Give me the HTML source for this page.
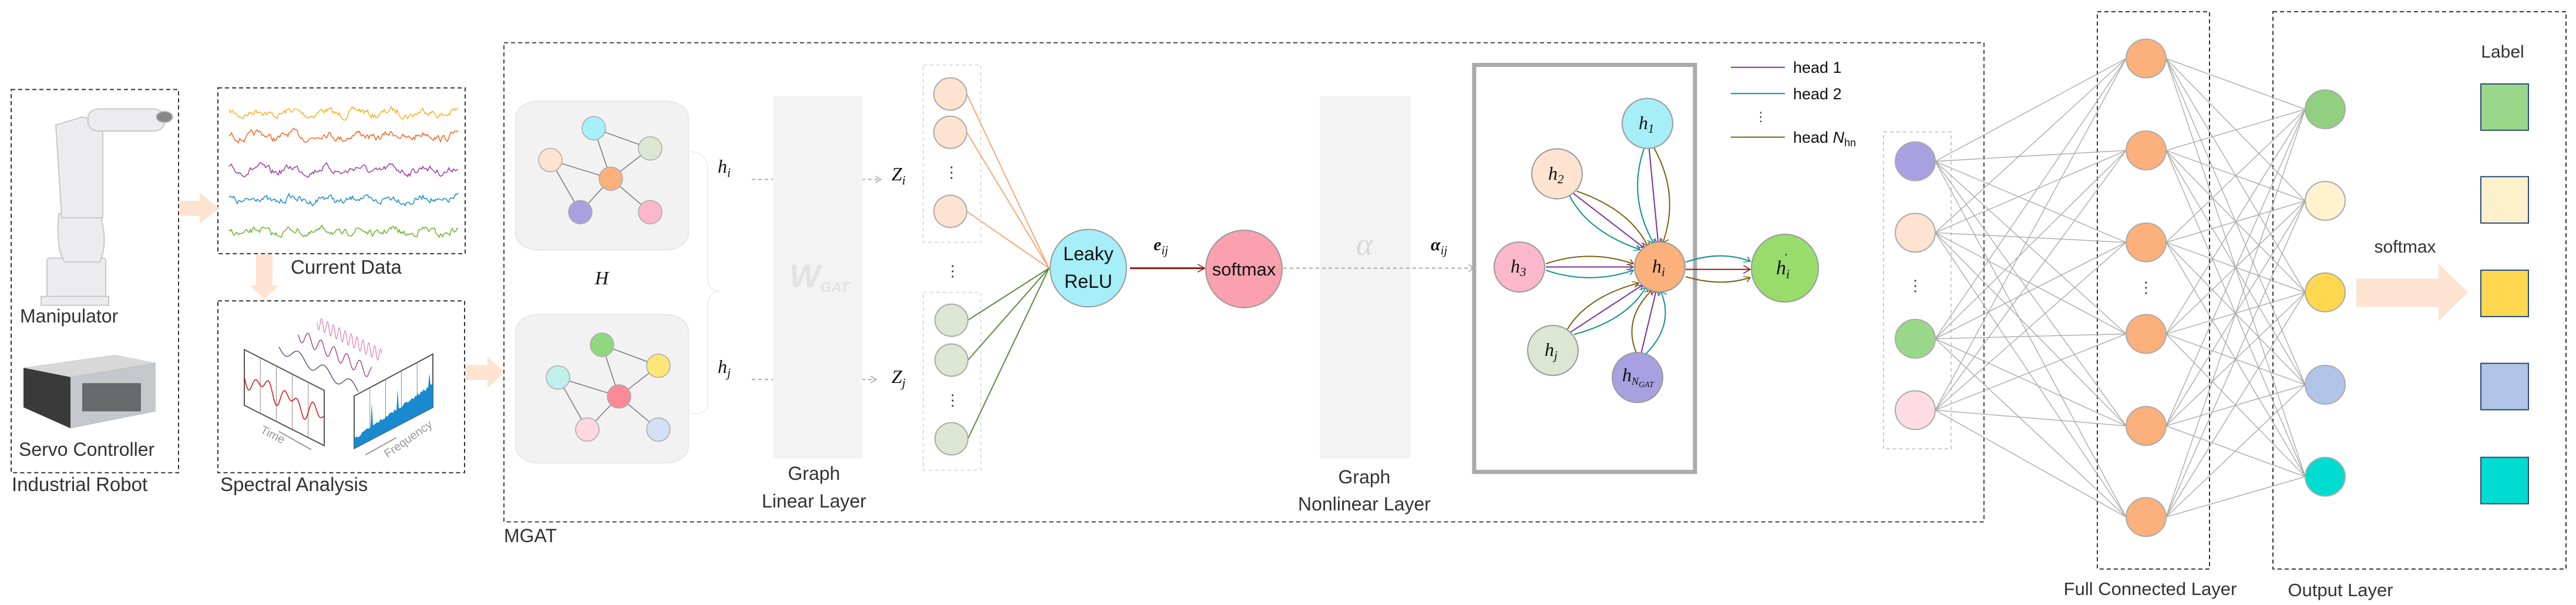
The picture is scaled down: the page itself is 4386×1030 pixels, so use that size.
<!DOCTYPE html>
<html><head><meta charset="utf-8">
<style>
html,body{margin:0;padding:0;background:#fff;overflow:hidden;}
svg{display:block;}
text{font-family:"Liberation Sans",sans-serif;fill:#333;}
.m{font-family:"Liberation Serif",serif;font-style:italic;fill:#111;}
#G *{vector-effect:non-scaling-stroke;}
</style></head>
<body>
<svg id="s" width="4386" height="1030" viewBox="0 0 4386 1030" xmlns="http://www.w3.org/2000/svg">
<defs>
<marker id="ag" markerWidth="12" markerHeight="18" refX="10" refY="9" orient="auto" markerUnits="userSpaceOnUse"><path d="M0,0 L10,9 L0,18" fill="none" stroke="#aaa" stroke-width="2"/></marker>
<marker id="ar" markerWidth="14" markerHeight="20" refX="12" refY="10" orient="auto" markerUnits="userSpaceOnUse"><path d="M0,0 L12,10 L0,20" fill="none" stroke="#8b1a1a" stroke-width="2"/></marker>
<marker id="ap" markerWidth="12" markerHeight="16" refX="10" refY="8" orient="auto" markerUnits="userSpaceOnUse"><path d="M0,0 L10,8 L0,16" fill="none" stroke="#7b2fa0" stroke-width="2"/></marker>
<marker id="at" markerWidth="12" markerHeight="16" refX="10" refY="8" orient="auto" markerUnits="userSpaceOnUse"><path d="M0,0 L10,8 L0,16" fill="none" stroke="#109090" stroke-width="2"/></marker>
<marker id="ao" markerWidth="12" markerHeight="16" refX="10" refY="8" orient="auto" markerUnits="userSpaceOnUse"><path d="M0,0 L10,8 L0,16" fill="none" stroke="#7a6010" stroke-width="2"/></marker>
</defs>
<g id="G" transform="scale(1,0.6866)">
<rect x="19" y="222" width="285" height="950" fill="none" stroke="#333" stroke-width="2" stroke-dasharray="7,5"/>
<g fill="#ececee" stroke="#c8c8cc" stroke-width="2">
<rect x="80" y="640" width="100" height="115" rx="6"/>
<rect x="70" y="735" width="115" height="22"/>
<path d="M100,530 Q95,620 110,650 L170,650 Q185,600 170,530 Z"/>
<path d="M95,310 L140,290 L175,300 L175,540 L105,540 Z"/>
<rect x="150" y="270" width="130" height="55" rx="20"/>
<circle cx="280" cy="290" r="14" fill="#888"/>
</g>
<path d="M40,912 L195,880 L265,900 L265,1020 L120,1062 L40,1010 Z" fill="#3a3a3a"/>
<path d="M40,912 L195,880 L265,900 L120,935 Z" fill="#d8d8d8"/>
<path d="M120,935 L265,900 L265,1020 L120,1062 Z" fill="#c4c8cc"/>
<rect x="140" y="950" width="100" height="70" fill="#2a2a2a" opacity="0.6"/>

<rect x="371" y="218" width="421" height="411" fill="none" stroke="#333" stroke-width="2" stroke-dasharray="7,5"/>
<g id="waves"></g>
<path d="M306,498 L340,498 L340,478 L373,516 L340,555 L340,535 L306,535 Z" fill="#fde3d0"/>
<path d="M436,632 L464,632 L464,708 L474,708 L450,742 L426,708 L436,708 Z" fill="#fde3d0"/>
<path d="M792,905 L830,905 L830,885 L859,923 L830,962 L830,942 L792,942 Z" fill="#fde3d0"/>
<rect x="371" y="746" width="420" height="426" fill="none" stroke="#333" stroke-width="2" stroke-dasharray="7,5"/>
<g id="spec">
<path d="M416,867 L552,968 L552,1105 L416,1005 Z" fill="#fff" stroke="#555" stroke-width="2"/>
<path d="M603,982 L737,878 L737,1010 L603,1112 Z" fill="#fff" stroke="#555" stroke-width="2"/>
</g>
<line x1="475" y1="1070" x2="530" y2="1115" stroke="#999" stroke-width="2"/>
<line x1="622" y1="1128" x2="675" y2="1085" stroke="#999" stroke-width="2"/>

<rect x="858" y="106" width="2520" height="1188" fill="none" stroke="#444" stroke-width="2" stroke-dasharray="7,5"/>
<rect x="878" y="251" width="294" height="369" rx="40" fill="#f2f2f2" stroke="#e4e8ec" stroke-width="2"/>
<rect x="878" y="780" width="294" height="368" rx="40" fill="#f2f2f2" stroke="#e4e8ec" stroke-width="2"/>
<g stroke="#777" stroke-width="1.5">
<line x1="1011" y1="318" x2="1107" y2="368"/><line x1="1011" y1="318" x2="1040" y2="443"/>
<line x1="937" y1="397" x2="1040" y2="443"/><line x1="937" y1="397" x2="988" y2="526"/>
<line x1="1040" y1="443" x2="1107" y2="368"/><line x1="1040" y1="443" x2="988" y2="526"/>
<line x1="1040" y1="443" x2="1107" y2="526"/>
<line x1="1025" y1="855" x2="1121" y2="907"/><line x1="1025" y1="855" x2="1054" y2="983"/>
<line x1="950" y1="936" x2="1054" y2="983"/><line x1="950" y1="936" x2="1000" y2="1065"/>
<line x1="1054" y1="983" x2="1121" y2="907"/><line x1="1054" y1="983" x2="1000" y2="1065"/>
<line x1="1054" y1="983" x2="1121" y2="1065"/>
</g>
<g stroke="#aaa" stroke-width="1.5">
<ellipse cx="1011" cy="318" rx="20" ry="29" fill="#a6f0f8"/><ellipse cx="1107" cy="368" rx="20" ry="29" fill="#dce6d2"/>
<ellipse cx="937" cy="397" rx="20" ry="29" fill="#fde3d0"/><ellipse cx="1040" cy="443" rx="20" ry="29" fill="#fcb07c"/>
<ellipse cx="988" cy="526" rx="20" ry="29" fill="#a8a0e0"/><ellipse cx="1107" cy="526" rx="20" ry="29" fill="#fbb8cc"/>
<ellipse cx="1025" cy="855" rx="20" ry="29" fill="#90d880"/><ellipse cx="1121" cy="907" rx="20" ry="29" fill="#fde67a"/>
<ellipse cx="950" cy="936" rx="20" ry="29" fill="#c0f0ec"/><ellipse cx="1054" cy="983" rx="20" ry="29" fill="#fa8a98"/>
<ellipse cx="1000" cy="1065" rx="20" ry="29" fill="#fcd8e0"/><ellipse cx="1121" cy="1065" rx="20" ry="29" fill="#d4e0f4"/>
</g>
<path d="M1176,375 Q1205,380 1205,420 L1205,690 Q1205,720 1225,722 Q1205,724 1205,760 L1205,1000 Q1205,1030 1176,1025" fill="none" stroke="#eee" stroke-width="2"/>
<line x1="1280" y1="445" x2="1500" y2="445" stroke="#aaa" stroke-width="2" stroke-dasharray="6,5" marker-end="url(#ag)"/>
<line x1="1280" y1="941" x2="1492" y2="941" stroke="#aaa" stroke-width="2" stroke-dasharray="6,5" marker-end="url(#ag)"/>
<rect x="1316" y="239" width="153" height="898" fill="#f3f3f3"/>

<rect x="1572" y="161" width="98" height="440" fill="none" stroke="#ddd" stroke-width="2" stroke-dasharray="6,5"/>
<rect x="1572" y="725" width="98" height="441" fill="none" stroke="#ddd" stroke-width="2" stroke-dasharray="6,5"/>
<g stroke-width="2">
<line x1="1646" y1="233" x2="1786" y2="665" stroke="#f7a878"/><line x1="1646" y1="328" x2="1786" y2="665" stroke="#f7a878"/><line x1="1646" y1="524" x2="1786" y2="665" stroke="#f7a878"/>
<line x1="1648" y1="794" x2="1786" y2="665" stroke="#5a8a40"/><line x1="1648" y1="893" x2="1786" y2="665" stroke="#5a8a40"/><line x1="1648" y1="1088" x2="1786" y2="665" stroke="#5a8a40"/>
</g>
<g stroke="#aaa" stroke-width="2">
<ellipse cx="1618" cy="233" rx="28" ry="40" fill="#fde3d0"/><ellipse cx="1618" cy="328" rx="28" ry="40" fill="#fde3d0"/><ellipse cx="1618" cy="524" rx="28" ry="40" fill="#fde3d0"/>
<ellipse cx="1620" cy="794" rx="28" ry="40" fill="#dce6d2"/><ellipse cx="1620" cy="893" rx="28" ry="40" fill="#dce6d2"/><ellipse cx="1620" cy="1088" rx="28" ry="40" fill="#dce6d2"/>
</g>
<ellipse cx="1853" cy="665" rx="65" ry="96" fill="#a6eef8" stroke="#999" stroke-width="2"/>
<line x1="1924" y1="665" x2="2051" y2="665" stroke="#8b1a1a" stroke-width="3" marker-end="url(#ar)"/>
<ellipse cx="2118" cy="667" rx="65" ry="96" fill="#fba0ae" stroke="#999" stroke-width="2"/>
<rect x="2247" y="239" width="155" height="898" fill="#f3f3f3"/>
<line x1="2185" y1="665" x2="2510" y2="665" stroke="#aaa" stroke-width="2" stroke-dasharray="6,5" marker-end="url(#ag)"/>

<rect x="2510" y="161" width="376" height="1009" fill="none" stroke="#aaa" stroke-width="7"/>
<g id="att" fill="none" stroke-width="2"></g>
<g stroke="#999" stroke-width="2">
<ellipse cx="2805" cy="306" rx="43" ry="62" fill="#a6eef8"/>
<ellipse cx="2651" cy="431" rx="43" ry="62" fill="#fde3d0"/>
<ellipse cx="2587" cy="662" rx="43" ry="62" fill="#fbb8cc"/>
<ellipse cx="2826" cy="662" rx="43" ry="62" fill="#fcb07c"/>
<ellipse cx="2644" cy="869" rx="43" ry="62" fill="#dce6d2"/>
<ellipse cx="2788" cy="936" rx="43" ry="62" fill="#a8a0e0"/>
</g>
<path d="M2870,650 Q2930,620 2980,648" fill="none" stroke="#109090" stroke-width="2" marker-end="url(#at)"/>
<line x1="2870" y1="668" x2="2980" y2="668" stroke="#8b1a1a" stroke-width="2" marker-end="url(#ar)"/>
<path d="M2870,686 Q2930,712 2980,688" fill="none" stroke="#7a6010" stroke-width="2" marker-end="url(#ao)"/>
<ellipse cx="3039" cy="665" rx="57" ry="84" fill="#98dc6c" stroke="#999" stroke-width="2"/>
<line x1="2947" y1="167" x2="3039" y2="167" stroke="#7b2fa0" stroke-width="2"/>
<line x1="2947" y1="232" x2="3039" y2="232" stroke="#109090" stroke-width="2"/>
<line x1="2947" y1="340" x2="3039" y2="340" stroke="#7a6010" stroke-width="2"/>

<rect x="3207" y="327" width="115" height="786" fill="none" stroke="#ccc" stroke-width="2" stroke-dasharray="6,5"/>
<rect x="3571" y="29" width="191" height="1382" fill="none" stroke="#333" stroke-width="2" stroke-dasharray="7,5"/>
<rect x="3870" y="29" width="499" height="1382" fill="none" stroke="#333" stroke-width="2" stroke-dasharray="7,5"/>
<g id="fc" stroke="#aaa" stroke-width="1.4"></g>
<g stroke="#aaa" stroke-width="2">
<ellipse cx="3261" cy="400" rx="34" ry="48" fill="#a8a0e0"/>
<ellipse cx="3261" cy="577" rx="34" ry="48" fill="#fde3d0"/>
<ellipse cx="3261" cy="840" rx="34" ry="48" fill="#98d888"/>
<ellipse cx="3261" cy="1017" rx="34" ry="48" fill="#fddde3"/>
</g>
<g id="fcn" stroke="#aaa" stroke-width="2" fill="#fcb07c"></g>
<g stroke="#aaa" stroke-width="2">
<ellipse cx="3959" cy="271" rx="34" ry="48" fill="#90d080"/>
<ellipse cx="3959" cy="498" rx="34" ry="48" fill="#fff3cf"/>
<ellipse cx="3959" cy="725" rx="34" ry="48" fill="#ffd84f"/>
<ellipse cx="3959" cy="954" rx="34" ry="48" fill="#b0c4e8"/>
<ellipse cx="3959" cy="1182" rx="34" ry="48" fill="#00ddd0"/>
</g>
<path d="M4012,691 L4152,691 L4152,654 L4202,725 L4152,796 L4152,761 L4012,761 Z" fill="#fde3d0"/>
<g stroke="#2a4a7a" stroke-width="2">
<rect x="4224" y="208" width="81" height="115" fill="#98d888"/>
<rect x="4224" y="438" width="81" height="115" fill="#fff0cc"/>
<rect x="4224" y="670" width="81" height="115" fill="#ffd84f"/>
<rect x="4224" y="901" width="81" height="115" fill="#b0c4e8"/>
<rect x="4224" y="1134" width="81" height="115" fill="#00ddd0"/>
</g>
</g>

<text x="34" y="549" font-size="32">Manipulator</text>
<text x="32" y="776" font-size="32">Servo Controller</text>
<text x="20" y="836" font-size="33">Industrial Robot</text>
<text x="495" y="466" font-size="33">Current Data</text>
<text x="442" y="736" font-size="20" transform="rotate(27 442 736)" style="fill:#999">Time</text>
<text x="660" y="780" font-size="20" transform="rotate(-35 660 780)" style="fill:#999">Frequency</text>
<text x="375" y="836" font-size="33">Spectral Analysis</text>
<text x="858" y="923" font-size="32">MGAT</text>
<text x="1013" y="484" font-size="32" class="m">H</text>
<text x="1222" y="294" font-size="32" class="m">h<tspan font-size="22" dy="7">i</tspan></text>
<text x="1222" y="635" font-size="32" class="m">h<tspan font-size="22" dy="7">j</tspan></text>
<text x="1344" y="489" font-size="56" style="fill:#e2e2e2;font-style:italic;font-weight:bold">W<tspan font-size="24" dy="8">GAT</tspan></text>
<text x="1386" y="817" font-size="32" text-anchor="middle">Graph</text>
<text x="1386" y="864" font-size="32" text-anchor="middle">Linear Layer</text>
<text x="1518" y="307" font-size="32" class="m">Z<tspan font-size="22" dy="7">i</tspan></text>
<text x="1518" y="652" font-size="32" class="m">Z<tspan font-size="22" dy="7">j</tspan></text>
<g font-size="26" text-anchor="middle"><text x="1620" y="302">⋮</text><text x="1622" y="470">⋮</text><text x="1622" y="690">⋮</text></g>
<text x="1853" y="443" font-size="32" text-anchor="middle" style="fill:#111">Leaky</text>
<text x="1853" y="490" font-size="32" text-anchor="middle" style="fill:#111">ReLU</text>
<text x="1964" y="426" font-size="30" class="m" style="font-weight:bold">e<tspan font-size="21" dy="7" style="font-weight:normal">ij</tspan></text>
<text x="2118" y="469" font-size="31" text-anchor="middle" style="fill:#111">softmax</text>
<text x="2323" y="434" font-size="54" class="m" text-anchor="middle" style="fill:#d8d8d8">α</text>
<text x="2436" y="426" font-size="30" class="m" style="font-weight:bold">α<tspan font-size="21" dy="7" style="font-weight:normal">ij</tspan></text>
<text x="2323" y="823" font-size="32" text-anchor="middle">Graph</text>
<text x="2323" y="869" font-size="32" text-anchor="middle">Nonlinear Layer</text>
<g font-size="32">
<text x="2790" y="220" class="m">h<tspan font-size="21" dy="6">1</tspan></text>
<text x="2636" y="306" class="m">h<tspan font-size="21" dy="6">2</tspan></text>
<text x="2572" y="464" class="m">h<tspan font-size="21" dy="6">3</tspan></text>
<text x="2813" y="464" class="m">h<tspan font-size="21" dy="6">i</tspan></text>
<text x="2630" y="606" class="m">h<tspan font-size="21" dy="6">j</tspan></text>
<text x="2762" y="649" class="m">h<tspan font-size="18" dy="6">N</tspan><tspan font-size="14" dy="4">GAT</tspan></text>
</g>
<text x="3024" y="467" font-size="34" class="m">h<tspan font-size="22" dy="7">i</tspan><tspan font-size="18" dx="-9" dy="-30">′</tspan></text>
<g font-size="27"><text x="3053" y="124" style="fill:#111">head 1</text><text x="3053" y="169" style="fill:#111">head 2</text><text x="3053" y="243" style="fill:#111">head <tspan font-style="italic">N</tspan><tspan font-size="18" dy="6">hn</tspan></text></g>
<text x="2998" y="206" font-size="22" text-anchor="middle">⋮</text>
<g font-size="26" text-anchor="middle"><text x="3261" y="495">⋮</text><text x="3654" y="498">⋮</text></g>
<text x="4095" y="430" font-size="30" text-anchor="middle">softmax</text>
<text x="4261" y="98" font-size="30" text-anchor="middle">Label</text>
<text x="3661" y="1013" font-size="31" text-anchor="middle">Full Connected Layer</text>
<text x="3985" y="1015" font-size="31" text-anchor="middle">Output Layer</text>
</svg>
<script>
var NS="http://www.w3.org/2000/svg";
function el(p,t,a){var e=document.createElementNS(NS,t);for(var k in a)e.setAttribute(k,a[k]);p.appendChild(e);return e;}
var seed=7;function rnd(){seed=(seed*16807)%2147483647;return seed/2147483647;}
var w=document.getElementById('waves');
var cols=[["#f5b120",280],["#f26722",337],["#9c3aa8",421],["#1a8ccc",495],["#6ab42a",575]];
cols.forEach(function(c){var d="",y=0;for(var x=390;x<=780;x+=2){y=y*0.6+(rnd()-0.5)*14+Math.sin(x/9)*3;d+=(x==390?"M":"L")+x+","+(c[1]+y).toFixed(1);}el(w,'path',{d:d,fill:'none',stroke:c[0],'stroke-width':1.5});});
var sp=document.getElementById('spec');
for(var i=1;i<5;i++){var t=i/5;el(sp,'line',{x1:416+136*t,y1:867+101*t,x2:416+136*t,y2:1005+100*t,stroke:'#888','stroke-width':1});
el(sp,'line',{x1:603+134*t,y1:982-104*t,x2:603+134*t,y2:1112-102*t,stroke:'#888','stroke-width':1});}
var d="";for(var x=0;x<=136;x+=2){var y=935+x*0.74+Math.sin(x/5)*30*Math.cos(x/17);d+=(x?"L":"M")+(416+x)+","+y.toFixed(1);}
el(sp,'path',{d:d,fill:'none',stroke:'#d01010','stroke-width':1.5});
d="M603,1112";for(var x=0;x<=134;x+=2){var b=1112-x*0.76;var h=20+x*0.25+rnd()*8;if(x==30||x==74||x==128)h=90;d+="L"+(603+x)+","+(b-h).toFixed(1);}d+="L737,1010Z";
el(sp,'path',{d:d,fill:'#1a8ad0',stroke:'none'});
d="";for(var x=0;x<=135;x+=1){var y=860+x*0.78+Math.sin(x/7)*14;d+=(x?"L":"M")+(475+x)+","+y.toFixed(1);}el(sp,'path',{d:d,fill:'none',stroke:'#303070','stroke-width':1.2});
d="";for(var x=0;x<=125;x+=1){var y=830+x*0.76+Math.sin(x/3.5)*16;d+=(x?"L":"M")+(508+x)+","+y.toFixed(1);}el(sp,'path',{d:d,fill:'none',stroke:'#902080','stroke-width':1.2});
d="";for(var x=0;x<=110;x+=1){var y=800+x*0.75+Math.sin(x/1.6)*16;d+=(x?"L":"M")+(540+x)+","+y.toFixed(1);}el(sp,'path',{d:d,fill:'none',stroke:'#e060a0','stroke-width':1});
var att=document.getElementById('att');var hi=[2826,662];
var nb=[[2805,306],[2651,431],[2587,662],[2644,869],[2788,936]];
var cl=[["#7b2fa0","ap",0],["#109090","at",1],["#7a6010","ao",-1]];
nb.forEach(function(n){var dx=hi[0]-n[0],dy=hi[1]-n[1],L=Math.sqrt(dx*dx+dy*dy),ux=dx/L,uy=dy/L,px=-uy,py=ux;
var sx=n[0]+ux*45,sy=n[1]+uy*60,ex=hi[0]-ux*45,ey=hi[1]-uy*60;
cl.forEach(function(c){var off=c[2]*45;var mx=(sx+ex)/2+px*off,my=(sy+ey)/2+py*off;
el(att,'path',{d:"M"+(sx+px*c[2]*8)+","+(sy+py*c[2]*8)+" Q"+mx+","+my+" "+(ex+px*c[2]*8)+","+(ey+py*c[2]*8),stroke:c[0],'marker-end':'url(#'+c[1]+')'});});});
var fc=document.getElementById('fc'),fcn=document.getElementById('fcn');
var inY=[400,577,840,1017],fY=[145,373,601,828,1056,1282],oY=[271,498,725,954,1182];
inY.forEach(function(a){fY.forEach(function(b){el(fc,'line',{x1:3295,y1:a,x2:3620,y2:b});});});
fY.forEach(function(a){oY.forEach(function(b){el(fc,'line',{x1:3688,y1:a,x2:3925,y2:b});});});
fY.forEach(function(b){el(fcn,'ellipse',{cx:3654,cy:b,rx:34,ry:48});});
</script>
</body></html>
